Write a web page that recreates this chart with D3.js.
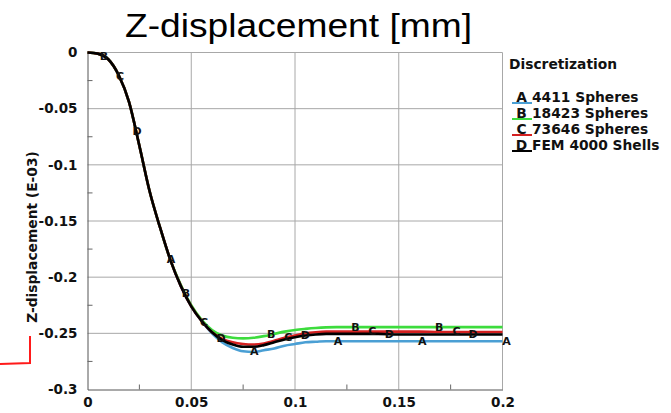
<!DOCTYPE html>
<html>
<head>
<meta charset="utf-8">
<script src="https://d3js.org/d3.v7.min.js"></script>
<style>
  body { margin: 0; background: #fff; }
  text { font-family: "DejaVu Sans", sans-serif; font-weight: bold; }
</style>
</head>
<body>
<div id="chart"></div>
<script>
// x positions (m) shared by every series
const xs = [0, 0.005, 0.01, 0.015, 0.02, 0.025, 0.03, 0.035, 0.04, 0.045, 0.05, 0.055, 0.06,
  0.065, 0.07, 0.075, 0.08, 0.085, 0.09, 0.095, 0.1, 0.105, 0.11, 0.115, 0.12,
  0.13, 0.14, 0.15, 0.16, 0.17, 0.18, 0.19, 0.2];

const seriesA = [0, -0.001, -0.006, -0.02, -0.044, -0.083, -0.124, -0.156, -0.185, -0.208, -0.226, -0.239, -0.25,
  -0.258, -0.263, -0.266, -0.2666, -0.265, -0.2635, -0.261, -0.2595, -0.258, -0.2575, -0.257, -0.257,
  -0.257, -0.257, -0.257, -0.257, -0.257, -0.257, -0.257, -0.257];
const seriesB = [0, -0.001, -0.006, -0.02, -0.044, -0.083, -0.124, -0.156, -0.185, -0.207, -0.225, -0.238, -0.247,
  -0.252, -0.254, -0.2545, -0.254, -0.2525, -0.2505, -0.2485, -0.247, -0.246, -0.2452, -0.2447, -0.2445,
  -0.2445, -0.2445, -0.2445, -0.2445, -0.2445, -0.2445, -0.2445, -0.2445];
const seriesC = [0, -0.001, -0.006, -0.02, -0.044, -0.083, -0.124, -0.156, -0.185, -0.208, -0.226, -0.239, -0.249,
  -0.255, -0.258, -0.2595, -0.26, -0.259, -0.2565, -0.254, -0.252, -0.25, -0.249, -0.2485, -0.2485,
  -0.2485, -0.2485, -0.2485, -0.2485, -0.2488, -0.2488, -0.2488, -0.2488];
const seriesD = [0, -0.001, -0.006, -0.02, -0.044, -0.083, -0.124, -0.156, -0.185, -0.208, -0.226, -0.239, -0.249,
  -0.256, -0.26, -0.262, -0.262, -0.2605, -0.258, -0.2555, -0.2535, -0.252, -0.251, -0.2505, -0.2505,
  -0.2505, -0.2505, -0.251, -0.251, -0.251, -0.251, -0.251, -0.251];

const letters = ["A", "B", "C", "D"];
const names = ["4411 Spheres", "18423 Spheres", "73646 Spheres", "FEM 4000 Shells"];
const colors = ["#4a9fd4", "#3ddc3d", "#d42020", "#000000"];
// x where each curve letter sits
const markA = [0.0398, 0.0799, 0.1203, 0.1609, 0.2014];
const markB = [0.0075, 0.047, 0.088, 0.1286, 0.169];
const markC = [0.0152, 0.0557, 0.0963, 0.1368, 0.1774];
const markD = [0.0234, 0.0639, 0.1045, 0.145, 0.1853];

const xTicks = [0, 0.05, 0.1, 0.15, 0.2];
const yTicks = [0, -0.05, -0.1, -0.15, -0.2, -0.25, -0.3];

const allSeries = [seriesA, seriesB, seriesC, seriesD];
const allMarks = [markA, markB, markC, markD];

const W = 671, H = 413;
const svg = d3.select("#chart").append("svg").attr("width", W).attr("height", H);

const x = d3.scaleLinear().domain([0, 0.2]).range([87.5, 502.5]);
const y = d3.scaleLinear().domain([-0.3, 0]).range([389.5, 52.5]);

// grid
svg.append("g").selectAll("line").data(xTicks.slice(1)).join("line")
  .attr("x1", d => x(d)).attr("x2", d => x(d)).attr("y1", y(0)).attr("y2", y(-0.3))
  .attr("stroke", "#a8a8a8").attr("stroke-width", 1);
svg.append("g").selectAll("line").data(yTicks.slice(0, -1)).join("line")
  .attr("x1", x(0)).attr("x2", x(0.2)).attr("y1", d => y(d)).attr("y2", d => y(d))
  .attr("stroke", "#a8a8a8").attr("stroke-width", 1);

// axes
const fmt = d => String(d);
const xAxis = svg.append("g").attr("transform", `translate(0,${y(-0.3)})`)
  .call(d3.axisBottom(x).tickValues(xTicks).tickFormat(fmt).tickSize(0).tickPadding(8));
const yAxis = svg.append("g").attr("transform", `translate(${x(0)},0)`)
  .call(d3.axisLeft(y).tickValues(yTicks).tickFormat(fmt).tickSize(0).tickPadding(10));
[xAxis, yAxis].forEach(a => {
  a.select(".domain").attr("stroke", "#555");
  a.selectAll("text").attr("font-size", 13.5).attr("fill", "#111")
    .style("font-family", "DejaVu Sans").style("font-weight", "bold");
});

// minor ticks pointing inward
const xMinor = d3.range(0.025, 0.2, 0.05);
svg.append("g").selectAll("line").data(xMinor).join("line")
  .attr("x1", d => x(d)).attr("x2", d => x(d)).attr("y1", y(-0.3)).attr("y2", y(-0.3) - 5)
  .attr("stroke", "#666");
const yMinor = d3.range(-0.025, -0.3, -0.05);
svg.append("g").selectAll("line").data(yMinor).join("line")
  .attr("x1", x(0)).attr("x2", x(0) + 5).attr("y1", d => y(d)).attr("y2", d => y(d))
  .attr("stroke", "#666");

// curves
const line = d3.line().x(d => x(d[0])).y(d => y(d[1])).curve(d3.curveMonotoneX);
allSeries.forEach((s, i) => {
  svg.append("path").datum(xs.map((v, j) => [v, s[j]]))
    .attr("fill", "none").attr("stroke", colors[i]).attr("stroke-width", 2.6)
    .attr("d", line);
});

// letters sitting on curves
const interp = (s, v) => {
  const j = Math.min(d3.bisectRight(xs, v), xs.length - 1);
  const i0 = Math.max(j - 1, 0);
  const t = xs[j] === xs[i0] ? 0 : (v - xs[i0]) / (xs[j] - xs[i0]);
  return s[i0] + (s[j] - s[i0]) * Math.max(0, Math.min(1, t));
};
allMarks.forEach((m, i) => {
  svg.append("g").selectAll("text").data(m).join("text")
    .attr("x", d => x(d) + 1).attr("y", d => y(interp(allSeries[i], d)) + 3.5)
    .attr("text-anchor", "middle").attr("font-size", 11).attr("fill", "#111")
    .text(letters[i]);
});

// title
svg.append("text").attr("x", 125).attr("y", 37)
  .style("font-family", "Liberation Sans, Arial, sans-serif").style("font-weight", "normal")
  .attr("font-size", 33).attr("textLength", 347).attr("lengthAdjust", "spacingAndGlyphs")
  .attr("fill", "#000").text("Z-displacement [mm]");

// y label
svg.append("text").attr("transform", "translate(37,237) rotate(-90)")
  .attr("text-anchor", "middle").attr("font-size", 13.8).attr("fill", "#111")
  .text("Z-displacement (E-03)");

// legend
svg.append("text").attr("x", 509).attr("y", 69).attr("font-size", 13.8).attr("fill", "#111")
  .text("Discretization");
const leg = svg.append("g").selectAll("g").data(letters).join("g")
  .attr("transform", (d, i) => `translate(0,${102 + i * 16})`);
leg.append("line").attr("x1", 512).attr("x2", 532).attr("y1", 1).attr("y2", 1)
  .attr("stroke", (d, i) => colors[i]).attr("stroke-width", 2);
leg.append("text").attr("x", 521.5).attr("text-anchor", "middle").attr("font-size", 13.8)
  .attr("fill", "#111").text(d => d);
leg.append("text").attr("x", 532).attr("font-size", 13.8).attr("fill", "#111")
  .text((d, i) => names[i]);

// red annotation bracket
svg.append("path").attr("d", `M0,${364} L30,363 L30,336`)
  .attr("fill", "none").attr("stroke", "#ff1a1a").attr("stroke-width", 2);
</script>
</body>
</html>
